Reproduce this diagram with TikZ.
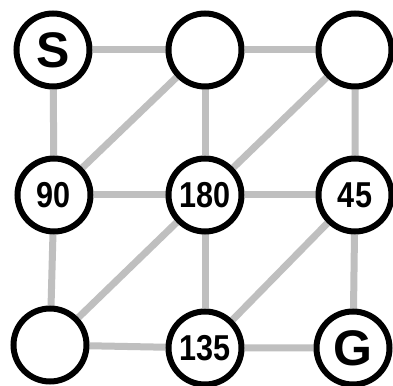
\documentclass[tikz,border=0pt]{standalone}
\usepackage{fontspec}
\setmainfont{Liberation Sans}
\newfontfamily\narrowf[FakeStretch=0.85]{Liberation Sans}
\usetikzlibrary{backgrounds}
\tikzset{
  cell/.style={circle, draw=black, line width=6pt, fill=white, minimum size=73pt, inner sep=0pt,
    font=\narrowf\fontsize{36}{36}\selectfont\bfseries},
  big/.style={font=\fontsize{50}{50}\selectfont\bfseries},
  link/.style={draw=black!25, line width=7pt}
}
\begin{document}
\begin{tikzpicture}[x=1pt,y=1pt]
\useasboundingbox (0,0) rectangle (393,385);
\node[cell,big] (s) at (53,335) {S};
\node[cell] (t2) at (205,335) {};
\node[cell] (t3) at (355,335) {};
\node[cell] (m1) at (54,190) {90};
\node[cell] (m2) at (205,190) {180};
\node[cell] (m3) at (355,190) {45};
\node[cell] (b1) at (50,40) {};
\node[cell] (b2) at (205,37) {135};
\node[cell,big] (g) at (353,37) {G};
\begin{scope}[on background layer]
\fill[white] (0,0) rectangle (393,385);
\draw[link] (s) -- (t2) (t2) -- (t3);
\draw[link] (m1) -- (m2) (m2) -- (m3);
\draw[link] (b1) -- (b2) (b2) -- (g);
\draw[link] (s) -- (m1) (m1) -- (b1);
\draw[link] (t2) -- (m2) (m2) -- (b2);
\draw[link] (t3) -- (m3) (m3) -- (g);
\draw[link] (t2) -- (m1) (t3) -- (m2);
\draw[link] (m2) -- (b1) (m3) -- (b2);
\end{scope}
\end{tikzpicture}
\end{document}
